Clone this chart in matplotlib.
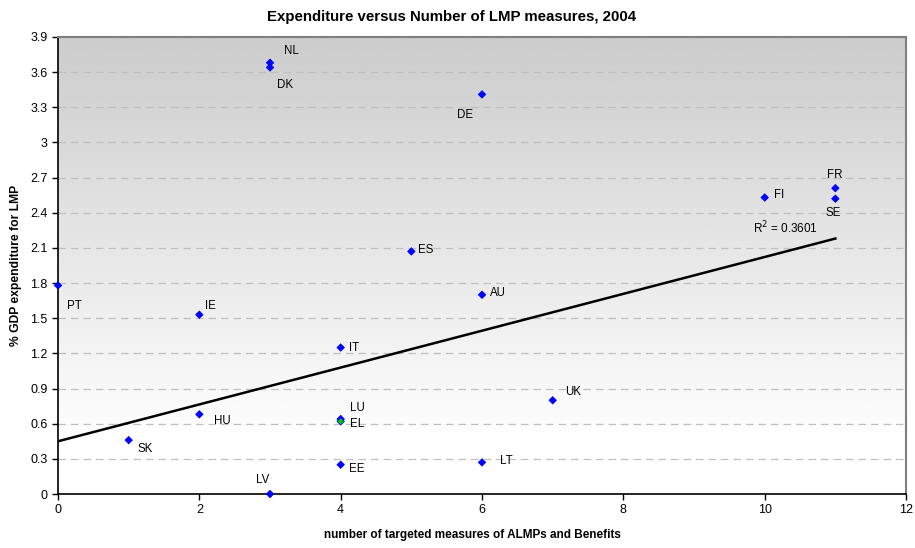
import matplotlib
matplotlib.use("Agg")
import matplotlib.pyplot as plt
import numpy as np

plt.rcParams['font.family'] = ['Liberation Sans', 'DejaVu Sans']

countries = ["NL", "DK", "DE", "FR", "SE", "FI", "ES", "PT", "IE", "AU",
             "IT", "UK", "HU", "LU", "EL", "SK", "EE", "LT", "LV"]
measures = [3, 3, 6, 11, 11, 10, 5, 0, 2, 6, 4, 7, 2, 4, 4, 1, 4, 6, 3]
expenditure = [3.68, 3.64, 3.41, 2.61, 2.52, 2.53, 2.07, 1.78, 1.53, 1.70,
               1.25, 0.80, 0.68, 0.64, 0.62, 0.46, 0.25, 0.27, 0.00]
trend_x = [0, 11]
trend_y = [0.45, 2.18]
r2_text = "R$^2$ = 0.3601"

# label offsets in pixels (dx, dy), dy positive = up
offsets = {
    "NL": (14, 12), "DK": (7, -18), "DE": (-25, -21), "FR": (-8, 13),
    "SE": (-10, -14), "FI": (9, 3), "ES": (7, 1), "PT": (9, -21),
    "IE": (6, 9), "AU": (8, 2), "IT": (8, 0), "UK": (12, 8),
    "HU": (15, -7), "LU": (9, 11), "EL": (9, -3), "SK": (9, -9),
    "EE": (8, -4), "LT": (18, 1), "LV": (-14, 14),
}

fig = plt.figure(figsize=(9.15, 5.48), dpi=100)
ax = fig.add_axes([0.0634, 0.0985, 0.9268, 0.834])

# gradient background
h = np.linspace(1, 0, 200)  # top -> bottom
vals = np.where(h > 0.098, 0.8 + 0.2 * (1 - (h - 0.098) / (1 - 0.098)), 1.0)
ax.imshow(vals.reshape(-1, 1), cmap='gray', vmin=0, vmax=1, aspect='auto',
          extent=[0, 12, 0, 3.9], zorder=0, interpolation='bilinear')

ax.set_xlim(0, 12)
ax.set_ylim(0, 3.9)
ax.set_xticks(np.arange(0, 13, 2))
yt = np.round(np.arange(0, 3.91, 0.3), 1)
ax.set_yticks(yt)
ax.set_yticklabels([("%g" % v) for v in yt])
ax.yaxis.grid(True, linestyle=(0, (6, 4)), color='#c0c0c0', linewidth=0.9)
ax.set_axisbelow(True)

ax.tick_params(direction='out', length=4, labelsize=9, colors='black', width=1)
for s in ['top', 'right']:
    ax.spines[s].set_color('#808080')
    ax.spines[s].set_linewidth(1.5)
for s in ['left', 'bottom']:
    ax.spines[s].set_color('black')
    ax.spines[s].set_linewidth(1.2)

colors = ['#0000ff'] * len(countries)
colors[countries.index("EL")] = '#00cc00'
ax.scatter(measures, expenditure, marker='D', s=14, c=colors,
           edgecolors='#0000ff', linewidths=0.6, zorder=4, clip_on=False)

ax.plot(trend_x, trend_y, color='black', linewidth=1.8, zorder=3)
ax.text(trend_x[1] - 0.25, trend_y[1] + 0.02, r2_text, ha='right', va='bottom',
        fontsize=8.5, zorder=5)

for c, x, y in zip(countries, measures, expenditure):
    dx, dy = offsets[c]
    ax.annotate(c, (x, y), xytext=(dx, dy), textcoords='offset pixels',
                ha='left', va='center', fontsize=8.3, zorder=5)

fig.text(452 / 915, 1 - 17 / 548, "Expenditure versus Number of LMP measures, 2004",
         fontsize=10.8, fontweight='bold', ha='center', va='center')
ax.set_xlabel("number of targeted measures of ALMPs and Benefits", fontsize=8.5,
              fontweight='bold')
ax.xaxis.set_label_coords((472 - 58) / 848, -0.077)
ax.set_ylabel("% GDP expenditure for LMP", fontsize=8.7, fontweight='bold',
              labelpad=6)

fig.savefig("out.png", dpi=100)
